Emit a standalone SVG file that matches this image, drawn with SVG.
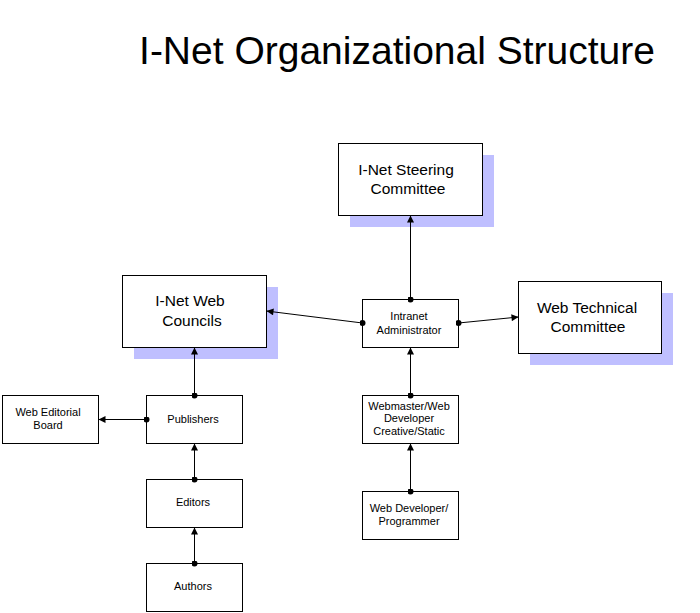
<svg xmlns="http://www.w3.org/2000/svg" width="700" height="613" viewBox="0 0 700 613">
<defs>
<marker id="arr" viewBox="0 0 10 10" refX="10" refY="5" markerWidth="8" markerHeight="7" markerUnits="userSpaceOnUse" orient="auto">
<path d="M0,0 L10,5 L0,10 z" fill="#000"/>
</marker>
<marker id="dot" viewBox="0 0 6 6" refX="3" refY="3" markerWidth="6" markerHeight="6" markerUnits="userSpaceOnUse">
<circle cx="3" cy="3" r="3" fill="#000"/>
</marker>
</defs>
<style>
text{font-family:"Liberation Sans",Arial,sans-serif;fill:#000;text-anchor:middle}
.box{fill:#fff;stroke:#000;stroke-width:1}
.sh{fill:#BFBFFF}
.big{font-size:15.5px}
.sm{font-size:11px}
.conn line{stroke:#000;stroke-width:1;marker-start:url(#dot);marker-end:url(#arr)}
</style>
<rect width="700" height="613" fill="#fff"/>
<text x="397" y="64" style="font-size:39px">I-Net Organizational Structure</text>

<g id="steering">
<rect class="sh" x="350" y="155" width="144" height="72"/>
<rect class="box" x="338.5" y="143.5" width="144" height="72"/>
<text class="big" x="406" y="175">I-Net Steering</text>
<text class="big" x="408" y="194">Committee</text>
</g>
<g id="councils">
<rect class="sh" x="134" y="287" width="144" height="72"/>
<rect class="box" x="122.5" y="275.5" width="144" height="72"/>
<text class="big" x="190" y="306">I-Net Web</text>
<text class="big" x="192" y="326">Councils</text>
</g>
<g id="admin">
<rect class="box" x="362.5" y="299.5" width="96" height="48"/>
<text class="sm" x="409" y="320">Intranet</text>
<text class="sm" x="409" y="334">Administrator</text>
</g>
<g id="webtech">
<rect class="sh" x="530" y="293" width="143" height="72"/>
<rect class="box" x="518.5" y="281.5" width="143" height="72"/>
<text class="big" x="587" y="313">Web Technical</text>
<text class="big" x="588" y="332">Committee</text>
</g>
<g id="editorial">
<rect class="box" x="2.5" y="395.5" width="96" height="48"/>
<text class="sm" x="48" y="416">Web Editorial</text>
<text class="sm" x="48" y="429">Board</text>
</g>
<g id="publishers">
<rect class="box" x="146.5" y="395.5" width="96" height="48"/>
<text class="sm" x="193" y="423">Publishers</text>
</g>
<g id="editors">
<rect class="box" x="146.5" y="479.5" width="96" height="48"/>
<text class="sm" x="193" y="506">Editors</text>
</g>
<g id="authors">
<rect class="box" x="146.5" y="563.5" width="96" height="48"/>
<text class="sm" x="193" y="590">Authors</text>
</g>
<g id="webmaster">
<rect class="box" x="362.5" y="395.5" width="96" height="48"/>
<text class="sm" x="409" y="410">Webmaster/Web</text>
<text class="sm" x="409" y="422">Developer</text>
<text class="sm" x="409" y="435">Creative/Static</text>
</g>
<g id="webdev">
<rect class="box" x="362.5" y="491.5" width="96" height="48"/>
<text class="sm" x="409" y="512">Web Developer/</text>
<text class="sm" x="409" y="525">Programmer</text>
</g>

<g class="conn">
<line x1="410.5" y1="299.5" x2="410.5" y2="215.5"/>
<line x1="362.5" y1="323" x2="266.5" y2="311"/>
<line x1="458.5" y1="323" x2="518.5" y2="317"/>
<line x1="410.5" y1="395.5" x2="410.5" y2="347.5"/>
<line x1="410.5" y1="491.5" x2="410.5" y2="443.5"/>
<line x1="194.5" y1="395.5" x2="194.5" y2="347.5"/>
<line x1="146.5" y1="419.5" x2="98.5" y2="419.5"/>
<line x1="194.5" y1="479.5" x2="194.5" y2="443.5"/>
<line x1="194.5" y1="563.5" x2="194.5" y2="527.5"/>
</g>
</svg>
